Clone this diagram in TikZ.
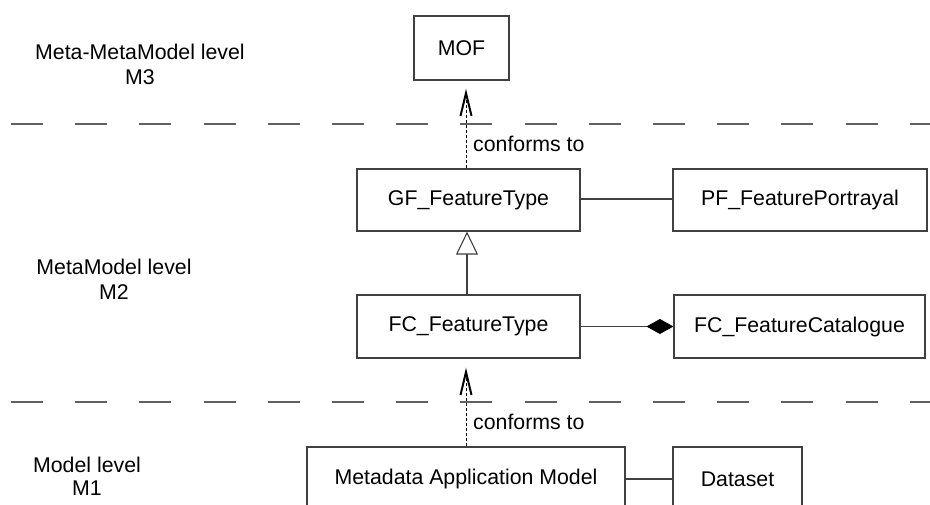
\documentclass[tikz,border=0pt]{standalone}
\usepackage{fontspec}
\setmainfont{Liberation Sans}
\usetikzlibrary{arrows.meta,calc}
\definecolor{boxline}{HTML}{404040}
\definecolor{sepline}{HTML}{606060}
\begin{document}
\begin{tikzpicture}[x=1pt,y=-1pt,
  every node/.style={font=\fontsize{21.3}{25}\selectfont, text=black},
  cls/.style={draw=boxline, line width=1.2pt, fill=white, inner sep=0pt},
  lbl/.style={anchor=base, inner sep=0pt},
  assoc/.style={draw=boxline, line width=1.1pt},
  sep/.style={draw=sepline, line width=1.1pt, dash pattern=on 32pt off 32.2pt},
  conf/.style={draw=black, line width=1pt, dash pattern=on 3pt off 2pt},
  barb/.style={draw=black, line width=2pt, miter limit=20},
  gen/.style={assoc, -{Triangle[open,length=23pt,width=22pt,fill=white]}},
  comp/.style={assoc, -{Diamond[length=27pt,width=15pt,fill=black,color=black]}}
]
\useasboundingbox (0,0) rectangle (930,505);

% separators
\draw[sep] (11,124) -- (930,124);
\draw[sep] (11,402) -- (930,402);

% level labels
\node[lbl] (l3a) at (140,60) {Meta-MetaModel level};
\node[lbl] (l3b) at (140,85) {M3};
\node[lbl] (l2a) at (114,275) {MetaModel level};
\node[lbl] (l2b) at (114,300) {M2};
\node[lbl] (l1a) at (87,472) {Model level};
\node[lbl] (l1b) at (87,495) {M1};

% classes
\node[cls, minimum width=95pt, minimum height=64pt] (MOF) at (461.5,48) {MOF};
\node[cls, minimum width=223pt, minimum height=62pt] (GF) at (468.5,200) {GF\_FeatureType};
\node[cls, minimum width=254pt, minimum height=62pt] (PF) at (800,200) {PF\_FeaturePortrayal};
\node[cls, minimum width=223pt, minimum height=63pt] (FC) at (468.5,326.5) {FC\_FeatureType};
\node[cls, minimum width=251pt, minimum height=63pt] (FCat) at (799.5,326.5) {FC\_FeatureCatalogue};
\node[cls, minimum width=318pt, minimum height=64pt] (MAM) at (466,479) {Metadata Application Model};
\node[cls, minimum width=129pt, minimum height=64pt] (DS) at (737.5,479) {Dataset};

% connectors
\draw[assoc] (GF.east |- 0,199) -- (PF.west |- 0,199);
\draw[gen] ([xshift=-1.5pt]FC.north) -- ([xshift=-1.5pt]GF.south);
\draw[comp] (FC.east) -- (FCat.west);
\draw[assoc] (MAM.east) -- (DS.west);

% conforms to (upper)
\coordinate (tip1) at (466,93);
\draw[conf] (GF.north -| tip1) -- (tip1);
\draw[barb] ($(tip1)+(-5.5,23)$) -- (tip1) -- ($(tip1)+(5.5,23)$);
\node[anchor=west, inner sep=0pt] (c1) at (473,144) {conforms to};

% conforms to (lower)
\coordinate (tip2) at (466,372);
\draw[conf] (MAM.north) -- (tip2);
\draw[barb] ($(tip2)+(-5.5,23)$) -- (tip2) -- ($(tip2)+(5.5,23)$);
\node[anchor=west, inner sep=0pt] (c2) at (473,422) {conforms to};
\end{tikzpicture}
\end{document}
